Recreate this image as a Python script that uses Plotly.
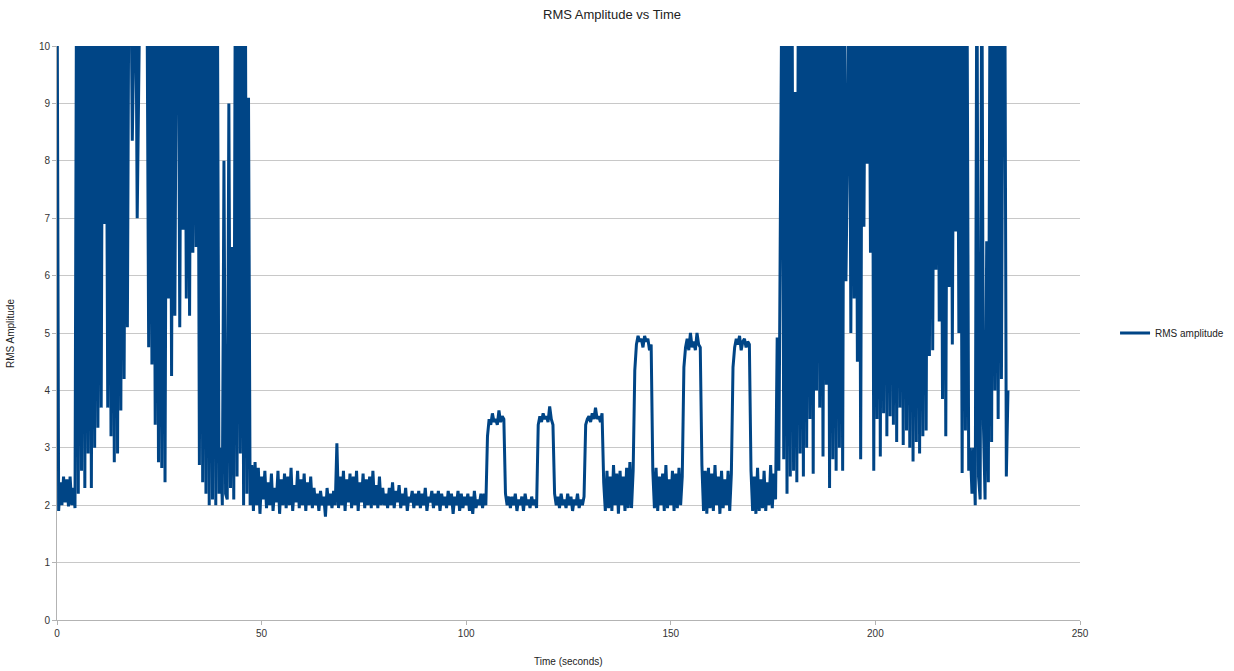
import numpy as np
import plotly.graph_objects as go

# Sampling step of the recording (seconds)
dt = 0.4

# t = 0.0 .. 47.6 s  (noisy start, strong bursts)
rms_a = [
    12, 1.9, 2.4, 2.0, 2.5, 2.05, 2.45, 1.98, 2.5, 2.0,
    2.3, 1.95, 12, 2.2, 11, 2.6, 12, 2.3, 11, 2.9,
    12, 2.3, 11, 3.0, 12, 3.35, 11, 3.7, 12, 6.9,
    11, 3.7, 12, 3.2, 11, 2.75, 12, 2.9, 11, 3.65,
    12, 4.2, 11, 5.1, 12, 12, 8.35, 12, 12, 7.0,
    12, 12, 12, 12, 12, 11, 4.75, 12, 4.45, 11,
    3.4, 12, 2.75, 11, 2.65, 12, 2.4, 11, 5.6, 12,
    4.25, 12, 5.3, 11, 12, 5.1, 12, 6.8, 12, 5.6,
    12, 5.3, 12, 6.4, 12, 6.5, 12, 2.7, 12, 2.4,
    11, 2.2, 12, 2.0, 11, 2.1, 12, 2.0, 11, 2.2,
    3.0, 2.0, 8.0, 2.2, 2.1, 9.0, 2.3, 6.5, 2.1, 12,
    2.5, 12, 2.9, 11, 2.0, 12, 2.2, 9.1, 2.0, 2.7,
]

# t = 48.0 .. 103.6 s  (quiet background)
rms_b = [
    1.9, 2.75, 2.0, 2.65, 1.85, 2.5, 2.1, 2.6, 1.95, 2.4,
    2.0, 2.55, 1.9, 2.3, 2.05, 2.6, 1.85, 2.45, 2.0, 2.55,
    1.95, 2.5, 2.0, 2.65, 1.9, 2.35, 2.05, 2.6, 1.95, 2.45,
    2.0, 2.55, 1.9, 2.4, 2.0, 2.5, 1.95, 2.3, 2.0, 2.2,
    1.9, 2.25, 2.0, 2.15, 1.8, 2.3, 2.0, 2.2, 1.95, 2.25,
    2.0, 3.08, 1.95, 2.5, 2.0, 2.6, 1.9, 2.45, 2.05, 2.55,
    1.95, 2.5, 2.0, 2.6, 1.9, 2.4, 2.05, 2.55, 1.95, 2.45,
    2.0, 2.5, 1.95, 2.6, 2.0, 2.35, 1.95, 2.5, 2.0, 2.3,
    2.0, 2.2, 1.95, 2.3, 2.0, 2.4, 1.95, 2.25, 2.05, 2.35,
    1.95, 2.2, 2.0, 2.3, 1.9, 2.15, 2.05, 2.25, 1.95, 2.2,
    2.0, 2.25, 1.95, 2.2, 2.0, 2.3, 1.9, 2.15, 2.05, 2.25,
    1.95, 2.2, 2.0, 2.25, 1.9, 2.2, 2.0, 2.15, 1.95, 2.25,
    2.0, 2.2, 1.85, 2.15, 2.0, 2.25, 1.9, 2.2, 1.95, 2.15,
    2.0, 2.2, 1.9, 2.15, 1.85, 2.25, 1.95, 2.1, 2.0, 2.2,
]

# t = 104.0 .. 175.6 s  (tone plateaus)
rms_c = [
    1.95, 2.2, 2.0, 3.2, 3.5, 3.4, 3.6, 3.45, 3.5, 3.4,
    3.65, 3.45, 3.55, 3.5, 2.2, 2.0, 2.15, 1.95, 2.15, 2.0,
    2.2, 1.9, 2.1, 2.0, 2.15, 1.9, 2.2, 2.0, 2.1, 1.95,
    2.15, 2.0, 2.1, 1.95, 3.4, 3.55, 3.45, 3.6, 3.5, 3.55,
    3.45, 3.72, 3.5, 3.4, 2.2, 2.0, 2.15, 1.95, 2.2, 2.0,
    2.1, 1.95, 2.2, 2.0, 2.15, 1.9, 2.1, 2.0, 2.2, 1.95,
    2.1, 2.0, 2.15, 3.4, 3.5, 3.55, 3.45, 3.6, 3.5, 3.7,
    3.5, 3.55, 3.45, 3.6, 2.4, 1.9, 2.6, 1.95, 2.5, 1.9,
    2.7, 2.0, 2.55, 1.85, 2.6, 2.0, 2.5, 1.9, 2.65, 1.95,
    2.75, 1.95, 2.6, 4.35, 4.8, 4.95, 4.85, 4.9, 4.75, 4.95,
    4.85, 4.9, 4.7, 4.8, 2.6, 1.95, 2.65, 1.9, 2.5, 2.0,
    2.55, 1.9, 2.7, 1.95, 2.45, 2.0, 2.6, 1.9, 2.55, 1.95,
    2.65, 2.0, 2.5, 4.4, 4.75, 4.9, 4.7, 5.0, 4.75, 4.85,
    4.7, 5.0, 4.8, 4.75, 2.7, 1.9, 2.6, 1.85, 2.65, 1.95,
    2.55, 1.9, 2.7, 2.0, 2.5, 1.85, 2.6, 1.95, 2.45, 2.0,
    2.6, 1.9, 2.55, 4.4, 4.75, 4.9, 4.8, 4.95, 4.7, 4.85,
    4.9, 4.75, 4.85, 4.8, 2.6, 1.9, 2.5, 1.85, 2.65, 1.9,
    2.45, 1.95, 2.6, 1.9, 2.4, 2.0, 2.7, 1.95, 2.55, 2.1,
]

# t = 176.0 .. 232.4 s  (noisy end, strong bursts)
rms_d = [
    4.92, 2.6, 7.7, 12, 2.8, 12, 2.2, 11, 2.5, 12,
    2.6, 9.2, 2.4, 12, 2.9, 11, 2.5, 12, 3.0, 11,
    3.5, 12, 2.55, 11, 4.0, 12, 3.7, 11, 2.85, 12,
    4.1, 11, 2.3, 12, 2.8, 11, 2.6, 12, 3.0, 11,
    2.6, 12, 5.9, 8.3, 12, 5.0, 12, 5.6, 12, 4.5,
    12, 2.8, 12, 6.85, 12, 7.95, 12, 6.4, 12, 2.6,
    11, 3.5, 12, 2.85, 11, 3.6, 12, 3.2, 11, 3.55,
    12, 3.4, 11, 3.1, 12, 3.7, 11, 3.05, 12, 3.3,
    11, 3.0, 12, 2.76, 11, 3.1, 12, 2.9, 11, 3.2,
    12, 3.3, 11, 4.6, 12, 4.7, 11, 6.1, 12, 5.2,
    11, 3.85, 12, 3.2, 11, 5.8, 12, 4.8, 11, 6.77,
    12, 5.0, 11, 2.56, 12, 3.3, 11, 2.6, 3.0, 2.2,
    3.0, 2.0, 12, 2.5, 2.1, 12, 3.4, 2.1, 6.6, 2.4,
    11, 3.1, 12, 4.0, 11, 3.5, 12, 4.2, 11, 12,
    2.5, 4.0,
]

rms = rms_a + rms_b + rms_c + rms_d
time_s = np.arange(len(rms)) * dt

x_ticks = [0, 50, 100, 150, 200, 250]
y_ticks = [0, 1, 2, 3, 4, 5, 6, 7, 8, 9, 10]

LINE_COLOR = "#004586"
FONT = "Liberation Sans, Arial, sans-serif"

fig = go.Figure()
fig.add_trace(go.Scatter(
    x=time_s, y=rms, mode="lines", name="RMS amplitude",
    line=dict(color=LINE_COLOR, width=3),
))

fig.update_layout(
    width=1234, height=671,
    margin=dict(l=57, r=154, t=46, b=51),
    paper_bgcolor="white", plot_bgcolor="white",
    font=dict(family=FONT, size=10, color="#333333"),
    title=dict(text="RMS Amplitude vs Time", x=0.496, xref="container",
               y=0.979, yref="container", yanchor="middle",
               font=dict(size=13, color="#222222")),
    showlegend=True,
    legend=dict(xref="container", x=0.9036, xanchor="left",
                y=0.5, yanchor="middle",
                font=dict(size=10, color="#222222"), bgcolor="rgba(0,0,0,0)"),
    xaxis=dict(range=[0, 250], tickvals=x_ticks, showgrid=False,
               showline=True, linecolor="#b3b3b3", linewidth=1,
               ticks="outside", ticklen=4, tickcolor="#b3b3b3",
               tickfont=dict(size=10, color="#333333"), zeroline=False),
    yaxis=dict(range=[0, 10], tickvals=y_ticks, showgrid=True,
               gridcolor="#c8c8c8", gridwidth=1,
               showline=True, linecolor="#b3b3b3", linewidth=1,
               ticks="outside", ticklen=4, tickcolor="#b3b3b3",
               tickfont=dict(size=10, color="#333333"), zeroline=False),
    annotations=[
        dict(text="Time (seconds)", xref="paper", yref="paper",
             x=0.5, y=-0.073, xanchor="center", yanchor="middle",
             showarrow=False, font=dict(size=10, color="#222222")),
        dict(text="RMS Amplitude", xref="paper", yref="paper",
             x=-0.046, y=0.5, xanchor="center", yanchor="middle",
             textangle=-90, showarrow=False,
             font=dict(size=10, color="#222222")),
    ],
)

fig.write_html("out.html")
